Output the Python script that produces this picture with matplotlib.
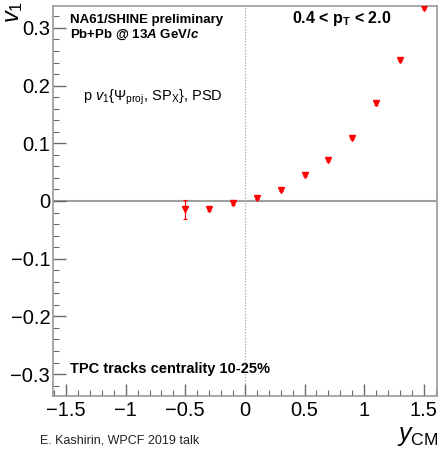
import matplotlib
matplotlib.use("Agg")
import matplotlib.pyplot as plt
from matplotlib.ticker import MultipleLocator
import numpy as np

plt.rcParams['font.family'] = ['Liberation Sans', 'DejaVu Sans']
plt.rcParams['mathtext.fontset'] = 'custom'
plt.rcParams['mathtext.rm'] = 'Liberation Sans'
plt.rcParams['mathtext.it'] = 'Liberation Sans:italic'
plt.rcParams['mathtext.bf'] = 'Liberation Sans:bold'
plt.rcParams['mathtext.bfit'] = 'Liberation Sans:bold:italic'

y_cm = [-0.5, -0.3, -0.1, 0.1, 0.3, 0.5, 0.7, 0.9, 1.1, 1.3, 1.5]
v1 = [-0.0145, -0.0140, -0.0040, 0.0050, 0.0196, 0.0445, 0.0710, 0.1100, 0.1690, 0.2440, 0.3340]
v1_err = [0.0160, 0.0030, 0.0025, 0.0020, 0.0020, 0.0020, 0.0020, 0.0020, 0.0020, 0.0020, 0.0020]

xticks = [-1.5, -1, -0.5, 0, 0.5, 1, 1.5]
xticklabels = ['\u22121.5', '\u22121', '\u22120.5', '0', '0.5', '1', '1.5']
yticks = [-0.3, -0.2, -0.1, 0, 0.1, 0.2, 0.3]
yticklabels = ['\u22120.3', '\u22120.2', '\u22120.1', '0', '0.1', '0.2', '0.3']

fig = plt.figure(figsize=(4.41, 4.49), dpi=100)
ax = fig.add_axes([0.120, 0.1187, 0.870, 0.868])

ax.set_xlim(-1.61, 1.607)
ax.set_ylim(-0.3375, 0.338)

spine_color = '#9a9a9a'
for s in ax.spines.values():
    s.set_color(spine_color)
    s.set_linewidth(1.2)

ax.axhline(0, color='#a0a0a0', lw=1.5, zorder=1)
ax.axvline(0, color='#b0b0b0', lw=0.9, ls=(0, (1.2, 1.2)), zorder=1)

ax.errorbar(y_cm, v1, yerr=v1_err, fmt='v', color='#ff0000', ms=4.5,
            elinewidth=0.9, capsize=1.2, capthick=0.8, zorder=3, clip_on=True)

ax.set_xticks(xticks)
ax.set_xticklabels(xticklabels)
ax.set_yticks(yticks)
ax.set_yticklabels(yticklabels)
ax.xaxis.set_minor_locator(MultipleLocator(0.1))
ax.yaxis.set_minor_locator(MultipleLocator(0.02))
ax.tick_params(which='both', direction='in', top=False, right=False,
               color='#6a6a6a', labelsize=14.5, labelcolor='black')
ax.tick_params(which='major', length=9, width=1.0)
ax.tick_params(which='minor', length=4.5, width=0.8)
ax.tick_params(axis='x', pad=4)
ax.tick_params(axis='y', pad=2)

ax.text(0.045, 0.957, 'NA61/SHINE preliminary', transform=ax.transAxes,
        fontsize=9.5, fontweight='bold', va='baseline', ha='left')
ax.text(0.045, 0.918, r'Pb+Pb @ 13$\boldsymbol{A}$ GeV/$\boldsymbol{c}$', transform=ax.transAxes,
        fontsize=9.5, fontweight='bold', va='baseline', ha='left')
ax.text(0.623, 0.957, r'0.4 < p$_\mathbf{T}$ < 2.0', transform=ax.transAxes,
        fontsize=11.5, fontweight='bold', va='baseline', ha='left')
ax.text(0.078, 0.756, r'p $v_1${$\Psi_{\rm proj}$, SP$_{\rm X}$}, PSD', transform=ax.transAxes,
        fontsize=10.5, va='baseline', ha='left')
ax.text(0.045, 0.058, 'TPC tracks centrality 10-25%', transform=ax.transAxes,
        fontsize=10.5, fontweight='bold', va='baseline', ha='left')

fig.text(0.032, 0.998, r'$v_1$', rotation=90, fontsize=17, ha='center', va='top')
fig.text(0.995, 0.003, r'$y_{\rm CM}$', fontsize=18, ha='right', va='bottom')
fig.text(0.09, 0.005, 'E. Kashirin, WPCF 2019 talk', fontsize=9, ha='left', va='bottom',
         color='#222222')

fig.savefig('out.png', dpi=100)
